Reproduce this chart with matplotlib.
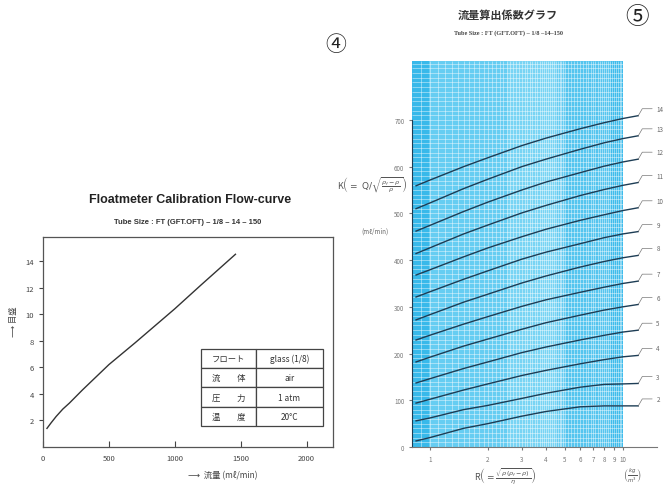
import numpy as np
import matplotlib
matplotlib.use('Agg')
import matplotlib.pyplot as plt

plt.rcParams['font.family'] = ['Noto Sans CJK JP', 'DejaVu Sans']

# ---- left chart: calibration flow-curve ----------------------------------
flow = [30, 60, 100, 150, 200, 300, 400, 500, 700, 1000, 1200, 1460]   # ml/min
scale = [1.4, 1.8, 2.3, 2.85, 3.3, 4.3, 5.25, 6.2, 7.85, 10.4, 12.2, 14.5]
flow_ticks = [0, 500, 1000, 1500, 2000]
scale_ticks = [2, 4, 6, 8, 10, 12, 14]
table_keys = ['フロート', '流\u3000\u3000体', '圧\u3000\u3000力', '温\u3000\u3000度']
table_vals = ['glass (1/8)', 'air', '1 atm', '20°C']

# ---- right chart: flow coefficient curves ---------------------------------
r_values = [0.85, 1, 1.5, 2, 3, 4, 6, 8, 10, 12]
k_curves = {
    14: [559, 571, 600, 619, 645, 661, 681, 694, 703, 709],
    13: [510, 522, 553, 573, 600, 616, 637, 651, 660, 666],
    12: [462, 474, 504, 524, 550, 567, 587, 601, 610, 616],
    11: [414, 426, 456, 475, 501, 517, 538, 551, 560, 566],
    10: [368, 379, 407, 426, 450, 466, 485, 497, 506, 512],
    9:  [321, 332, 359, 377, 402, 417, 435, 448, 456, 461],
    8:  [272, 283, 310, 327, 351, 366, 385, 397, 405, 410],
    7:  [229, 239, 263, 279, 301, 315, 331, 342, 350, 355],
    6:  [182, 192, 216, 231, 252, 266, 282, 293, 300, 305],
    5:  [137, 146, 168, 182, 202, 214, 229, 239, 246, 250],
    4:  [94, 102, 122, 135, 153, 164, 178, 187, 193, 196],
    3:  [56, 62, 80, 89, 104, 115, 128, 134, 135, 136],
    2:  [13, 20, 40, 50, 66, 76, 86, 88, 88, 88],
}
r_ticks = [1, 2, 3, 4, 5, 6, 7, 8, 9, 10]
k_ticks = [0, 100, 200, 300, 400, 500, 600, 700]


def draw_calibration(ax):
    ax.plot(flow, scale, color='#333333', lw=1.0)
    ax.set_xlim(0, 2200)
    ax.set_ylim(0, 15.8)
    ax.set_xticks(flow_ticks)
    ax.set_yticks(scale_ticks)
    ax.tick_params(axis='x', direction='in', length=4, labelsize=5.5,
                   colors='#444444', pad=5)
    ax.tick_params(axis='y', direction='out', length=3, labelsize=5.5,
                   colors='#444444')
    for s in ax.spines.values():
        s.set_color('#555555')
        s.set_linewidth(0.9)
    ax.set_xlabel('\u27f6  流量 (mℓ/min)', fontsize=6, color='#444444',
                  labelpad=8)
    ax.xaxis.set_label_coords(0.62, -0.11)
    ax.set_ylabel('\u27f6 目盛', fontsize=6, color='#444444', labelpad=6)
    ax.yaxis.set_label_coords(-0.085, 0.6)
    cells = [[k, v] for k, v in zip(table_keys, table_vals)]
    tb = ax.table(cellText=cells, bbox=[0.545, 0.1, 0.42, 0.367],
                  cellLoc='center')
    tb.auto_set_font_size(False)
    tb.set_fontsize(6)
    for (r, c), cell in tb.get_celld().items():
        cell.set_edgecolor('#444444')
        cell.set_linewidth(0.9)
        cell.get_text().set_color('#333333')
        if c == 0:
            cell.set_width(0.19)
        else:
            cell.set_width(0.23)


def draw_coefficients(ax):
    ax.set_xscale('log')
    ax.set_xlim(0.81, 15)
    ax.set_ylim(0, 826)
    # blue background bands
    ax.axvspan(0.81, 10, color='#66cdf2', zorder=0, lw=0)
    ax.axvspan(0.81, 0.99, color='#38b9ea', zorder=0.5, lw=0)
    ax.axvspan(2.5, 4.5, color='#78d4f4', zorder=0.5, lw=0)
    ax.axvspan(5, 10, color='#55c5ef', zorder=0.5, lw=0)
    ax.axvspan(8.7, 10, color='#3fbcec', zorder=0.5, lw=0)
    # fine grid
    ax.hlines(np.arange(10, 826, 10), 0.81, 10, color='white', lw=0.5,
              alpha=0.6, zorder=1)
    vx = np.concatenate([np.arange(0.9, 2.0, 0.1), np.arange(2.0, 5.0, 0.1),
                         np.arange(5.0, 10.01, 0.2)])
    ax.vlines(vx, 0, 826, color='white', lw=0.5, alpha=0.6, zorder=1)
    for label, vals in k_curves.items():
        ax.plot(r_values, vals, color='#1d3d55', lw=1.0, zorder=3)
        ax.annotate('%d' % label, xy=(r_values[-1], vals[-1]),
                    xytext=(13, 5), textcoords='offset points',
                    fontsize=4.5, color='#666666', va='center',
                    arrowprops=dict(arrowstyle='-', color='#777777', lw=0.5,
                                    shrinkA=1, shrinkB=0,
                                    connectionstyle='angle,angleA=0,angleB=60,rad=0'))
    ax.set_xticks(r_ticks)
    ax.set_xticklabels([str(t) for t in r_ticks])
    ax.xaxis.set_minor_locator(matplotlib.ticker.NullLocator())
    ax.set_yticks(k_ticks)
    ax.tick_params(axis='both', length=2, labelsize=4.5, colors='#777777')
    ax.spines['top'].set_visible(False)
    ax.spines['right'].set_visible(False)
    ax.spines['left'].set_bounds(0, 700)
    ax.spines['left'].set_color('#1d3d55')
    ax.spines['bottom'].set_color('#777777')


fig = plt.figure(figsize=(6.64, 4.89), dpi=100, facecolor='white')

ax1 = fig.add_axes([43 / 664, 41 / 489, 290 / 664, 210 / 489])
draw_calibration(ax1)

ax2 = fig.add_axes([412 / 664, 41 / 489, 245 / 664, 386 / 489])
ax2.set_facecolor('none')
draw_coefficients(ax2)

# titles and free text
fig.text(190 / 664, 1 - 200 / 489, 'Floatmeter Calibration Flow-curve',
         ha='center', va='center', fontsize=9, fontweight='bold',
         family=['Liberation Sans', 'DejaVu Sans'], color='#222222')
fig.text(188 / 664, 1 - 222 / 489,
         'Tube Size : FT (GFT.OFT) \u2013 1/8 \u2013 14 \u2013 150',
         ha='center', va='center', fontsize=5.5, fontweight='bold',
         family=['Liberation Sans', 'DejaVu Sans'], color='#333333')
fig.text(336 / 664, 1 - 45 / 489, '④', ha='center', va='center',
         fontsize=15, color='#222222')
fig.text(637 / 664, 1 - 18 / 489, '⑤', ha='center', va='center',
         fontsize=17, color='#222222')
fig.text(508 / 664, 1 - 15 / 489, '流量算出係数グラフ', ha='center',
         va='center', fontsize=8, fontweight='bold', color='#333333')
fig.text(508 / 664, 1 - 33 / 489,
         'Tube Size : FT (GFT.OFT) \u2013 1/8 \u201314\u2013150',
         ha='center', va='center', fontsize=4.5, fontweight='bold',
         family=['Liberation Serif', 'DejaVu Serif'], color='#444444')
fig.text(372 / 664, 1 - 185 / 489,
         r'K$\left(=\ \mathrm{Q}/\sqrt{\frac{\rho_f-\rho}{\rho}}\right)$',
         ha='center', va='center', fontsize=6.5, color='#555555')
fig.text(375 / 664, 1 - 232 / 489, '(mℓ/min)', ha='center', va='center',
         fontsize=4.5, color='#666666')
fig.text(505 / 664, 1 - 476 / 489,
         r'R$\left(=\frac{\sqrt{\rho\,(\rho_f-\rho)}}{\eta}\right)$',
         ha='center', va='center', fontsize=6.5, color='#555555')
fig.text(632 / 664, 1 - 476 / 489, r'$\left(\frac{kg}{m^3}\right)$',
         ha='center', va='center', fontsize=5.5, color='#555555')

fig.savefig('out.png', dpi=100, facecolor='white')
